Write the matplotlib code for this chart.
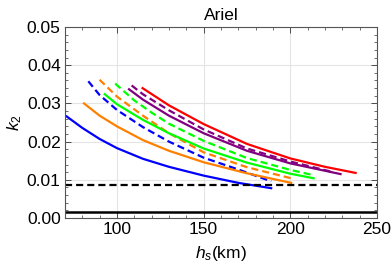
import matplotlib
matplotlib.use('Agg')
import matplotlib.pyplot as plt
from matplotlib.ticker import MultipleLocator

plt.rcParams['font.family'] = ['Liberation Sans', 'DejaVu Sans']
plt.rcParams['mathtext.fontset'] = 'custom'
plt.rcParams['mathtext.it'] = 'Liberation Sans:italic'
plt.rcParams['mathtext.rm'] = 'Liberation Sans'

# valeurs (h_s en km, k2)
blue_solid_h = [71, 80, 90, 100, 115, 130, 150, 170, 189]
blue_solid_k = [0.0266, 0.0236, 0.0207, 0.0183, 0.0155, 0.0134, 0.0111, 0.0092, 0.0078]

blue_dash_h = [83.5, 90, 100, 115, 130, 150, 170, 189]
blue_dash_k = [0.0358, 0.0322, 0.0283, 0.0238, 0.0200, 0.0158, 0.0127, 0.0096]

orange_solid_h = [81, 90, 100, 115, 130, 150, 175, 200.5]
orange_solid_k = [0.0300, 0.0268, 0.0240, 0.0204, 0.0176, 0.0146, 0.0117, 0.0092]

orange_dash_h = [90, 100, 115, 130, 150, 175, 200.5]
orange_dash_k = [0.0362, 0.0318, 0.0268, 0.0222, 0.0172, 0.0133, 0.0104]

green_solid_h = [93, 100, 115, 130, 150, 175, 200, 213.5]
green_solid_k = [0.0324, 0.0298, 0.0257, 0.0222, 0.0182, 0.0145, 0.0116, 0.0104]

green_dash_h = [99, 110, 120, 130, 150, 175, 200, 213.5]
green_dash_k = [0.0352, 0.0308, 0.0276, 0.0247, 0.0202, 0.0157, 0.0126, 0.0112]

purple_solid_h = [107, 115, 130, 150, 175, 200, 229]
purple_solid_k = [0.0337, 0.0310, 0.0268, 0.0222, 0.0176, 0.0143, 0.0115]

purple_dash_h = [108.5, 115, 130, 150, 175, 200, 223]
purple_dash_k = [0.0347, 0.0324, 0.0282, 0.0232, 0.0182, 0.0148, 0.0122]

red_h = [114.8, 130, 150, 175, 200, 220, 237.7]
red_k = [0.0340, 0.0295, 0.0246, 0.0194, 0.0156, 0.0134, 0.0118]

k2_dash = 0.0086
k2_solid = 0.0015

fig = plt.figure(figsize=(3.91, 2.73), dpi=100)
ax = fig.add_axes([0.166, 0.2015, 0.798, 0.6995])

lw = 1.6
dash = (0, (3.2, 1.8))
ax.plot(blue_solid_h, blue_solid_k, color='#0000ff', lw=lw)
ax.plot(blue_dash_h, blue_dash_k, color='#0000ff', lw=lw, linestyle=dash)
ax.plot(orange_solid_h, orange_solid_k, color='#ff8000', lw=lw)
ax.plot(orange_dash_h, orange_dash_k, color='#ff8000', lw=lw, linestyle=dash)
ax.plot(green_solid_h, green_solid_k, color='#00ff00', lw=lw)
ax.plot(green_dash_h, green_dash_k, color='#00ff00', lw=lw, linestyle=dash)
ax.plot(purple_solid_h, purple_solid_k, color='#800080', lw=lw)
ax.plot(purple_dash_h, purple_dash_k, color='#800080', lw=lw, linestyle=dash)
ax.plot(red_h, red_k, color='#ff0000', lw=lw)

ax.axhline(k2_dash, color='black', lw=1.6, linestyle=dash)
ax.axhline(k2_solid, color='black', lw=1.8)

ax.set_xlim(70, 250)
ax.set_ylim(0, 0.05)
ax.xaxis.set_major_locator(MultipleLocator(50))
ax.xaxis.set_minor_locator(MultipleLocator(10))
ax.yaxis.set_major_locator(MultipleLocator(0.01))
ax.yaxis.set_minor_locator(MultipleLocator(0.002))
ax.yaxis.set_major_formatter(plt.FuncFormatter(lambda v, p: '%.2f' % v))
ax.grid(True, which='major', color='#e4e4e4', lw=0.8)

ax.tick_params(which='both', direction='in', top=True, right=True, labelsize=12.5, colors='#333333', labelcolor='black')
ax.tick_params(which='major', length=4, width=0.6, pad=3)
ax.tick_params(which='minor', length=2, width=0.5)
for s in ax.spines.values():
    s.set_color('#555555')
    s.set_linewidth(0.8)

ax.set_title('Ariel', fontsize=12.5, pad=5)
ax.set_xlabel('$h_s$(km)', fontsize=12.5, labelpad=5)
ax.set_ylabel('$k_2$', fontsize=12.5, labelpad=2)

fig.savefig('out.png', dpi=100)
